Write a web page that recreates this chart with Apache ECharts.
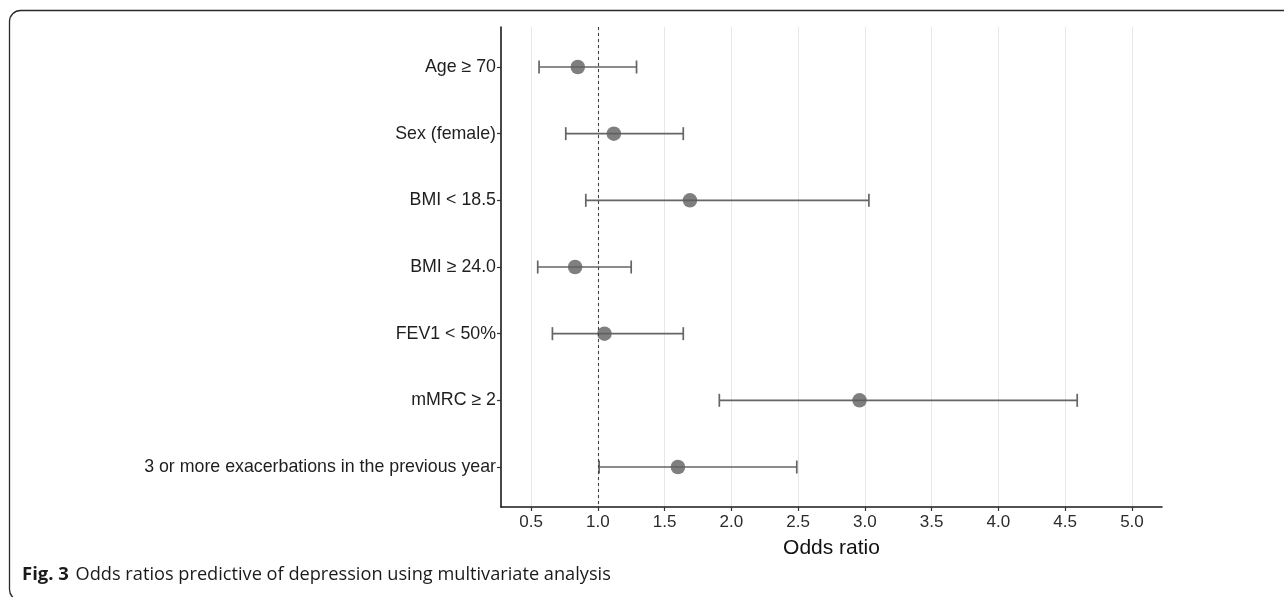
<!DOCTYPE html>
<html>
<head>
<meta charset="utf-8">
<script src="https://cdn.jsdelivr.net/npm/echarts@6/dist/echarts.min.js"></script>
<style>
html,body{margin:0;padding:0;background:#fff;}
#chart{width:1284px;height:597px;}
</style>
</head>
<body>
<div id="chart"></div>
<script>
// ---- data ----
var categories = ['Age \u2265 70', 'Sex (female)', 'BMI < 18.5', 'BMI \u2265 24.0', 'FEV1 < 50%', 'mMRC \u2265 2', '3 or more exacerbations in the previous year'];
var oddsRatio = [0.85, 1.12, 1.69, 0.83, 1.05, 2.96, 1.60];
var ciLower   = [0.56, 0.76, 0.91, 0.55, 0.66, 1.91, 1.01];
var ciUpper   = [1.29, 1.64, 3.03, 1.25, 1.64, 4.59, 2.49];
var xTicks = [0.5, 1.0, 1.5, 2.0, 2.5, 3.0, 3.5, 4.0, 4.5, 5.0];
var referenceLine = 1.0;
var xTitle = 'Odds ratio';
var captionBold = 'Fig. 3';
var captionText = 'Odds ratios predictive of depression using multivariate analysis';

var idx = categories.map(function (c, i) { return i; });
var pointData = categories.map(function (c, i) { return [oddsRatio[i], i]; });
var ciData = categories.map(function (c, i) { return [ciLower[i], ciUpper[i], i]; });

var chart = echarts.init(document.getElementById('chart'), null, {renderer: 'canvas'});
var axisFont = "'Liberation Sans', Arial, sans-serif";
var capFont = "'Open Sans', 'Noto Sans', sans-serif";

var option = {
  backgroundColor: '#ffffff',
  animation: false,
  grid: {left: 501, right: 122, top: 27, bottom: 90, containLabel: false},
  xAxis: {
    type: 'value',
    min: 0.275,
    max: 5.225,
    axisLine: {show: true, onZero: false, lineStyle: {color: '#1a1a1a', width: 1.6}},
    axisTick: {show: true, customValues: xTicks, length: 4, lineStyle: {color: '#333', width: 1.2}},
    axisLabel: {show: true, customValues: xTicks, margin: 7, fontSize: 17, color: '#2b2b2b', fontFamily: axisFont,
      formatter: function (v) { return Number(v).toFixed(1); }},
    splitLine: {show: true, lineStyle: {color: '#e6e6e6', width: 1}},
    name: xTitle,
    nameLocation: 'middle',
    nameGap: 31,
    nameTextStyle: {fontSize: 21, color: '#111', fontFamily: axisFont}
  },
  yAxis: {
    type: 'value',
    inverse: true,
    min: -0.6,
    max: 6.6,
    axisLine: {show: true, onZero: false, lineStyle: {color: '#1a1a1a', width: 1.6}},
    axisTick: {show: true, customValues: idx, length: 4, lineStyle: {color: '#333', width: 1.2}},
    axisLabel: {show: true, customValues: idx, margin: 5, fontSize: 17.8, color: '#1e1e1e', fontFamily: axisFont,
      formatter: function (v) { return categories[Math.round(v)]; }},
    splitLine: {show: false}
  },
  graphic: [
    {type: 'rect', silent: true, z: -1,
      shape: {x: 9.5, y: 10.5, width: 1300, height: 590, r: 11},
      style: {fill: 'none', stroke: '#2a2a2a', lineWidth: 1.3}},
    {type: 'text', left: 22, top: 565,
      style: {
        text: '{b|' + captionBold + '}  {n|' + captionText + '}',
        rich: {
          b: {fontFamily: capFont, fontWeight: 'bold', fontSize: 18.5, fill: '#1a1a1a'},
          n: {fontFamily: capFont, fontSize: 18.2, fill: '#1a1a1a'}
        }
      }}
  ],
  series: [
    {
      type: 'custom',
      name: 'CI',
      data: ciData,
      encode: {x: [0, 1], y: 2},
      renderItem: function (params, api) {
        var lo = api.coord([api.value(0), api.value(2)]);
        var hi = api.coord([api.value(1), api.value(2)]);
        var h = 6.5;
        var st = {stroke: '#656565', lineWidth: 1.7, fill: 'none'};
        return {type: 'group', children: [
          {type: 'line', shape: {x1: lo[0], y1: lo[1], x2: hi[0], y2: hi[1]}, style: st},
          {type: 'line', shape: {x1: lo[0], y1: lo[1] - h, x2: lo[0], y2: lo[1] + h}, style: st},
          {type: 'line', shape: {x1: hi[0], y1: hi[1] - h, x2: hi[0], y2: hi[1] + h}, style: st}
        ]};
      },
      z: 3
    },
    {
      type: 'scatter',
      name: 'OR',
      data: pointData,
      symbol: 'circle',
      symbolSize: 14.5,
      itemStyle: {color: '#5f5f5f'},
      z: 4,
      markLine: {
        silent: true,
        symbol: ['none', 'none'],
        label: {show: false},
        lineStyle: {color: '#444', type: [3, 3], width: 1.1},
        data: [{xAxis: referenceLine}]
      }
    }
  ]
};
chart.setOption(option);
</script>
</body>
</html>
